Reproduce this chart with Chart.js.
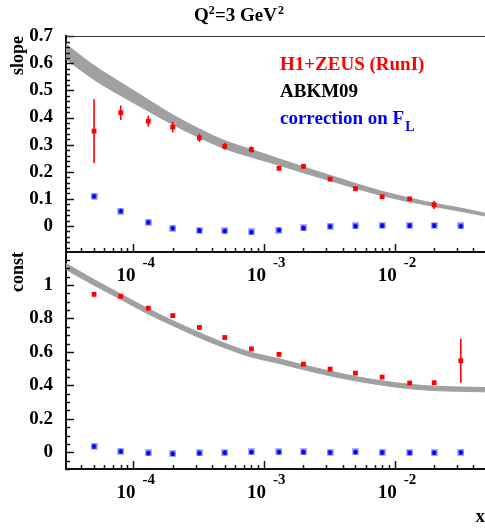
<!DOCTYPE html>
<html>
<head>
<meta charset="utf-8">
<script src="https://cdn.jsdelivr.net/npm/chart.js@4.4.0/dist/chart.umd.min.js"></script>
<style>
  html, body { margin: 0; padding: 0; background: #fff; }
  #wrap { position: relative; width: 485px; height: 529px; overflow: hidden; }
  canvas { position: absolute; left: 0; }
  #topPanel { top: 0; }
  #bottomPanel { top: 240px; }
</style>
</head>
<body>
<div id="wrap">
  <canvas id="topPanel" width="490" height="300"></canvas>
  <canvas id="bottomPanel" width="490" height="289"></canvas>
</div>
<script>
// measured x bins
const xPoints = [5e-5, 8e-5, 1.3e-4, 2e-4, 3.2e-4, 5e-4, 8e-4, 1.3e-3, 2e-3, 3.2e-3, 5e-3, 8e-3, 1.3e-2, 2e-2, 3.2e-2];

// H1+ZEUS slope, its error, and the F_L correction
const slopeData = [0.350, 0.418, 0.387, 0.365, 0.325, 0.294, 0.282, 0.213, 0.220, 0.173, 0.138, 0.108, 0.100, 0.078, null];
const slopeErr  = [0.118, 0.027, 0.020, 0.020, 0.015, 0.012, 0.012, 0.008, 0.008, 0.006, 0.008, 0.006, 0.006, 0.015, 0];
const slopeCorr = [0.110, 0.055, 0.014, -0.008, -0.016, -0.018, -0.022, -0.015, -0.007, -0.001, 0.000, 0.002, 0.002, 0.002, 0.000];

// H1+ZEUS const, its error, and the F_L correction
const constData = [0.944, 0.932, 0.861, 0.817, 0.746, 0.686, 0.618, 0.585, 0.527, 0.497, 0.473, 0.449, 0.414, 0.416, 0.547];
const constErr  = [0.012, 0.006, 0.005, 0.005, 0.005, 0.005, 0.005, 0.005, 0.005, 0.005, 0.005, 0.005, 0.005, 0.008, 0.131];
const constCorr = [0.036, 0.006, -0.004, -0.008, -0.004, -0.002, 0.002, 0.002, 0.002, 0.000, 0.002, 0.000, -0.002, -0.002, 0.000];

// ABKM09 band (lower / upper edge)
const xBand = [3.05e-5, 5e-5, 8e-5, 1.3e-4, 2e-4, 3.2e-4, 5e-4, 8e-4, 1.3e-3, 2e-3, 3.2e-3, 5e-3, 8e-3, 1.3e-2, 2e-2, 3.2e-2, 4.9e-2];
const slopeBandLo = [0.615, 0.540, 0.481, 0.424, 0.374, 0.326, 0.285, 0.254, 0.224, 0.196, 0.167, 0.139, 0.112, 0.089, 0.072, 0.054, 0.037];
const slopeBandHi = [0.671, 0.592, 0.529, 0.466, 0.410, 0.358, 0.315, 0.282, 0.248, 0.218, 0.187, 0.157, 0.128, 0.103, 0.084, 0.066, 0.047];
const constBandLo = [1.092, 0.998, 0.914, 0.826, 0.757, 0.685, 0.624, 0.569, 0.531, 0.494, 0.457, 0.427, 0.401, 0.380, 0.369, 0.364, 0.361];
const constBandHi = [1.128, 1.032, 0.946, 0.858, 0.787, 0.715, 0.652, 0.597, 0.559, 0.522, 0.485, 0.453, 0.427, 0.406, 0.395, 0.390, 0.387];

const xTickPowers = [-4, -3, -2];

const FONT = "'Liberation Serif', 'Times New Roman', serif";
const RED = '#ff0000', BLUE = '#0000ff', GRAY = 'rgb(160,160,160)';

function pts(xs, ys, errs) {
    return xs.map((x, i) => ({ x: x, y: ys[i], e: errs ? errs[i] : 0 })).filter(p => p.y !== null);
}

function starMarker() {
    const c = document.createElement('canvas');
    c.width = 7; c.height = 7;
    const g = c.getContext('2d');
    g.fillStyle = 'rgba(120,120,255,0.55)';
    g.fillRect(0, 0, 7, 7);
    g.strokeStyle = BLUE;
    g.lineWidth = 1.2;
    g.beginPath();
    g.moveTo(1, 3.5); g.lineTo(6, 3.5);
    g.moveTo(3.5, 1); g.lineTo(3.5, 6);
    g.moveTo(1.5, 1.5); g.lineTo(5.5, 5.5);
    g.moveTo(5.5, 1.5); g.lineTo(1.5, 5.5);
    g.stroke();
    return c;
}

// vertical error bars on the red points
const errorBars = {
    id: 'errorBars',
    afterDatasetsDraw(chart) {
        const ctx = chart.ctx, y = chart.scales.y;
        const ds = chart.data.datasets[0];
        const meta = chart.getDatasetMeta(0);
        ctx.save();
        ctx.strokeStyle = RED;
        ctx.lineWidth = 1.6;
        ctx.beginPath();
        meta.data.forEach((el, i) => {
            const p = ds.data[i];
            if (!p.e) return;
            ctx.moveTo(el.x, y.getPixelForValue(p.y - p.e));
            ctx.lineTo(el.x, y.getPixelForValue(p.y + p.e));
        });
        ctx.stroke();
        ctx.restore();
    }
};

// ROOT style inward ticks, frame and 10^n labels
const rootAxes = {
    id: 'rootAxes',
    afterDraw(chart, args, opts) {
        const { ctx, chartArea: a } = chart;
        const x = chart.scales.x, y = chart.scales.y;
        ctx.save();
        ctx.strokeStyle = '#111';
        ctx.lineWidth = 1.5;
        ctx.beginPath();
        for (let p = -5; p <= -1; p++) {
            for (let k = 1; k <= 9; k++) {
                const v = k * Math.pow(10, p);
                if (v < x.min || v > x.max) continue;
                const px = Math.round(x.getPixelForValue(v)) + 0.5;
                const len = k === 1 ? 8 : 4;
                ctx.moveTo(px, a.bottom);
                ctx.lineTo(px, a.bottom - len);
            }
        }
        const n0 = Math.ceil(y.min / opts.yMinor - 1e-6);
        const n1 = Math.floor(y.max / opts.yMinor + 1e-6);
        const per = Math.round(opts.yMajor / opts.yMinor);
        for (let i = n0; i <= n1; i++) {
            const py = Math.round(y.getPixelForValue(i * opts.yMinor)) + 0.5;
            const len = i % per === 0 ? 8 : 4;
            ctx.moveTo(a.left, py);
            ctx.lineTo(a.left + len, py);
        }
        ctx.stroke();

        if (opts.topLine) {
            ctx.strokeStyle = '#333';
            ctx.lineWidth = 1;
            ctx.beginPath();
            ctx.moveTo(a.left, a.top + 0.5);
            ctx.lineTo(a.right, a.top + 0.5);
            ctx.stroke();
        }

        ctx.fillStyle = '#000';
        ctx.textAlign = 'left';
        ctx.textBaseline = 'alphabetic';
        xTickPowers.forEach(p => {
            const px = x.getPixelForValue(Math.pow(10, p));
            ctx.font = `bold 19px ${FONT}`;
            ctx.fillText('10', px - 17, a.bottom + 29);
            ctx.font = `bold 15px ${FONT}`;
            ctx.fillText(String(p), px + 9, a.bottom + 15);
        });
        ctx.restore();
    }
};

// title and legend text
const headerText = {
    id: 'headerText',
    afterDraw(chart) {
        const ctx = chart.ctx;
        ctx.save();
        ctx.textAlign = 'left';
        ctx.textBaseline = 'alphabetic';

        ctx.fillStyle = '#000';
        ctx.font = `bold 19px ${FONT}`;
        ctx.fillText('Q', 194, 21);
        const wq = ctx.measureText('Q').width;
        const rest = '=3 GeV';
        const wr = ctx.measureText(rest).width;
        ctx.fillText(rest, 215, 21);
        ctx.font = `bold 12px ${FONT}`;
        ctx.fillText('2', 194 + wq, 14);
        ctx.fillText('2', 215 + wr + 1, 14);

        ctx.font = `bold 19px ${FONT}`;
        ctx.fillStyle = RED;
        ctx.fillText('H1+ZEUS (RunI)', 280, 70);
        ctx.fillStyle = '#000';
        ctx.fillText('ABKM09', 280, 96.5);
        ctx.fillStyle = BLUE;
        const s = 'correction on F';
        ctx.fillText(s, 280, 124);
        const w = ctx.measureText(s).width;
        ctx.font = `bold 14px ${FONT}`;
        ctx.fillText('L', 280 + w + 1, 130.5);
        ctx.restore();
    }
};

function makePanel(canvasId, cfg) {
    const ctx = document.getElementById(canvasId).getContext('2d');
    const plugins = [errorBars, rootAxes];
    if (cfg.header) plugins.push(headerText);
    return new Chart(ctx, {
        type: 'scatter',
        data: {
            datasets: [
                { data: pts(xPoints, cfg.data, cfg.err), pointStyle: 'rect', pointRadius: 3.4,
                  backgroundColor: RED, borderColor: RED, borderWidth: 0, showLine: false, order: 0 },
                { data: pts(xPoints, cfg.corr), pointStyle: starMarker(), pointRadius: 3.5,
                  showLine: false, order: 1 },
                { data: pts(xBand, cfg.bandHi), showLine: true, fill: '+1', backgroundColor: GRAY,
                  borderColor: GRAY, borderWidth: 1, pointRadius: 0, cubicInterpolationMode: 'monotone', order: 2 },
                { data: pts(xBand, cfg.bandLo), showLine: true, fill: false,
                  borderColor: GRAY, borderWidth: 1, pointRadius: 0, cubicInterpolationMode: 'monotone', order: 3 }
            ]
        },
        options: {
            responsive: false,
            animation: false,
            devicePixelRatio: 1,
            layout: { padding: { top: cfg.padTop, right: 0, bottom: 0, left: 0 } },
            plugins: {
                legend: { display: false },
                tooltip: { enabled: false },
                rootAxes: { yMajor: cfg.yMajor, yMinor: cfg.yMinor, topLine: !!cfg.header }
            },
            scales: {
                x: {
                    type: 'logarithmic', min: 3.05e-5, max: 0.049,
                    grid: { display: false, drawTicks: false },
                    border: { display: true, color: '#111', width: 2 },
                    ticks: { display: false },
                    title: { display: !!cfg.xTitle, text: cfg.xTitle || '', align: 'end', color: '#000',
                             padding: { top: 0, bottom: 1 }, font: { family: FONT, size: 19, weight: 'bold' } },
                    afterFit: s => { s.height = cfg.xHeight; s.paddingLeft = 0; s.paddingRight = 0; }
                },
                y: {
                    type: 'linear', min: cfg.yMin, max: cfg.yMax,
                    grid: { display: false, drawTicks: false },
                    border: { display: true, color: '#111', width: 2 },
                    ticks: { stepSize: cfg.yMajor, includeBounds: false, padding: 13, color: '#000',
                             font: { family: FONT, size: 19, weight: 'bold' },
                             callback: v => String(Math.round(v * 10) / 10) },
                    title: { display: true, text: cfg.yTitle, align: 'end', color: '#000',
                             padding: { top: 8, bottom: 0 }, font: { family: FONT, size: 18, weight: 'bold' } },
                    afterFit: s => { s.width = 66; s.paddingTop = 0; s.paddingBottom = 0; }
                }
            }
        },
        plugins: plugins
    });
}

makePanel('topPanel', {
    data: slopeData, err: slopeErr, corr: slopeCorr, bandLo: slopeBandLo, bandHi: slopeBandHi,
    yMin: -0.096, yMax: 0.701, yMajor: 0.1, yMinor: 0.02, yTitle: 'slope',
    padTop: 36, xHeight: 48, header: true
});

makePanel('bottomPanel', {
    data: constData, err: constErr, corr: constCorr, bandLo: constBandLo, bandHi: constBandHi,
    yMin: -0.1, yMax: 1.197, yMajor: 0.2, yMinor: 0.05, yTitle: 'const', xTitle: 'x',
    padTop: 12, xHeight: 60, header: false
});
</script>
</body>
</html>
